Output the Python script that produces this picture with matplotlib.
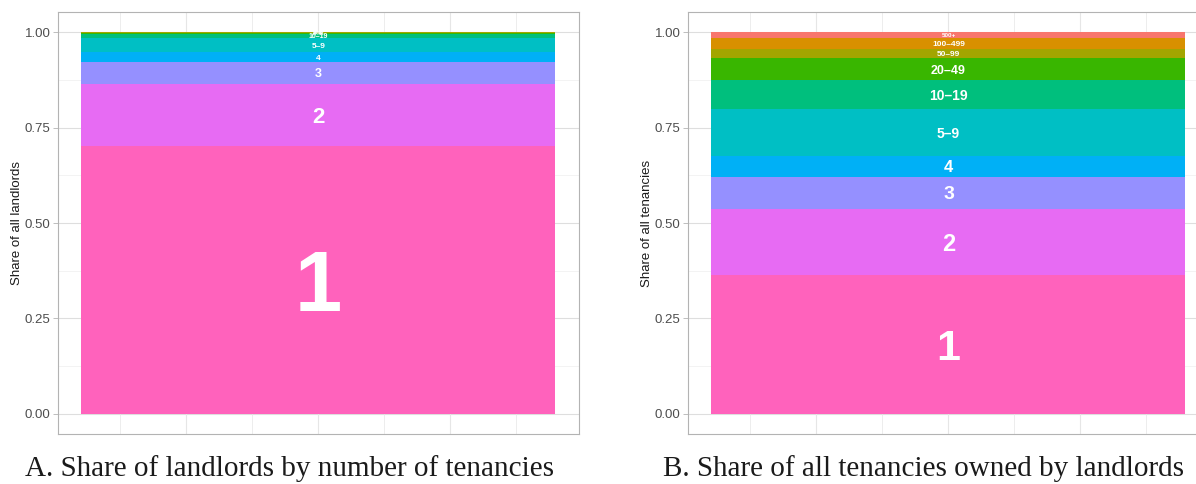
import matplotlib.pyplot as plt
import numpy as np

# tenancy-count bands, bottom to top
bands = ['1', '2', '3', '4', '5\u20139', '10\u201319', '20\u201349',
         '50\u201399', '100\u2013499', '500+']

# share of all landlords (panel A)
landlord_share = [0.701, 0.164, 0.056, 0.027, 0.036, 0.012, 0.0025,
                  0.0006, 0.0003, 0.0001]
# share of all tenancies (panel B)
tenancy_share = [0.364, 0.173, 0.084, 0.055, 0.122, 0.076, 0.058,
                 0.023, 0.029, 0.016]

# ggplot hue palette, '1' is the last colour
colors = ['#FF62BC', '#E76BF3', '#9590FF', '#00B0F6', '#00BFC4',
          '#00BF7D', '#39B600', '#A3A500', '#D89000', '#F8766D']

# label sizes (pt)
size_a = [61, 16, 9, 6, 6, 5, 3, 2, 2, 2]
size_b = [31, 17, 14, 12, 10, 10, 9, 6, 6, 4.5]

plt.rcParams['font.family'] = ['Liberation Sans', 'DejaVu Sans']

W, H = 1196, 484
fig = plt.figure(figsize=(W / 100, H / 100), dpi=100)


def panel(left_px, shares, sizes, ylabel, caption, cap_x):
    ax = fig.add_axes([left_px / W, (H - 434) / H, 521 / W, 422 / H])
    half = 521 / 474 / 2
    ax.set_xlim(-half, half)
    ax.set_ylim(-0.0524, 1.0524)

    # grid
    for y in np.arange(0, 1.01, 0.25):
        ax.axhline(y, color='#DEDEDE', lw=0.8, zorder=0)
    for y in np.arange(0.125, 1.0, 0.25):
        ax.axhline(y, color='#EEEEEE', lw=0.5, zorder=0)
    step = 66 / 474
    for k in range(-3, 4):
        ax.axvline(k * step, color='#E6E6E6', lw=0.8 if k % 2 == 0 else 0.5, zorder=0)

    bottoms = np.concatenate([[0], np.cumsum(shares)[:-1]])
    ax.bar(0, shares, width=1.0, bottom=bottoms, color=colors, zorder=2)
    for lab, b, s, fs in zip(bands, bottoms, shares, sizes):
        ax.text(0, b + s / 2, lab, color='white', fontsize=fs, fontweight='bold',
                ha='center', va='center_baseline', zorder=3)

    ax.set_yticks([0, 0.25, 0.5, 0.75, 1.0])
    ax.set_yticklabels(['0.00', '0.25', '0.50', '0.75', '1.00'])
    ax.set_xticks([])
    ax.tick_params(axis='y', length=3.5, width=0.6, color='#B3B3B3',
                   labelcolor='#4D4D4D', labelsize=9.5, pad=2)
    for sp in ax.spines.values():
        sp.set_color('#B3B3B3')
        sp.set_linewidth(0.8)
    ax.set_ylabel(ylabel, fontsize=9.5, color='#1A1A1A', labelpad=1)

    fig.text(cap_x / W, (H - 469) / H, caption, family='Liberation Serif',
             fontsize=21, color='#1A1A1A', ha='left', va='center')
    return ax


panel(58, landlord_share, size_a, 'Share of all landlords',
      'A. Share of landlords by number of tenancies', 25)
panel(688, tenancy_share, size_b, 'Share of all tenancies',
      'B. Share of all tenancies owned by landlords', 663)

fig.savefig('out.png', dpi=100, facecolor='white')
